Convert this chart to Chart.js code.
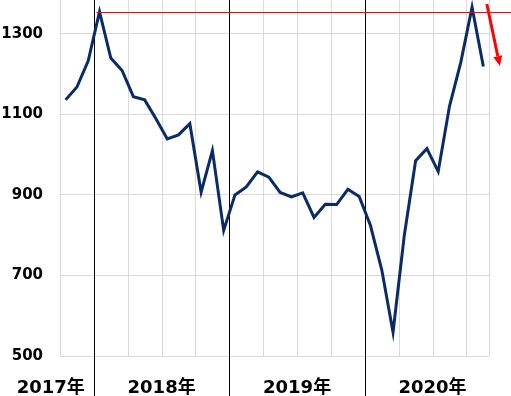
<!DOCTYPE html>
<html>
<head>
<meta charset="utf-8">
<script src="https://cdn.jsdelivr.net/npm/chart.js@4"></script>
<style>
  html, body { margin: 0; padding: 0; background: #fff; }
  #wrap { width: 511px; height: 396px; position: relative; }
</style>
</head>
<body>
<div id="wrap"><canvas id="chart"></canvas></div>
<script>
const months = [
  '2017-10', '2017-11', '2017-12',
  '2018-01', '2018-02', '2018-03', '2018-04', '2018-05', '2018-06',
  '2018-07', '2018-08', '2018-09', '2018-10', '2018-11', '2018-12',
  '2019-01', '2019-02', '2019-03', '2019-04', '2019-05', '2019-06',
  '2019-07', '2019-08', '2019-09', '2019-10', '2019-11', '2019-12',
  '2020-01', '2020-02', '2020-03', '2020-04', '2020-05', '2020-06',
  '2020-07', '2020-08', '2020-09', '2020-10', '2020-11',
];
const values = [
  1136, 1168, 1233,
  1355, 1240, 1209, 1144, 1136, 1089, 1039, 1049, 1077, 907, 1010, 812,
  900, 920, 957, 944, 906, 895, 905, 844, 877, 876, 914, 896,
  824, 714, 559, 800, 985, 1015, 958, 1120, 1229, 1366, 1219,
];
const yTicks = [500, 700, 900, 1100, 1300];
const yearLabels = ['2017年', '2018年', '2019年', '2020年'];
const yearStarts = [0, 3, 15, 27]; // index in months where each year begins
const peakIndex = 3; // red reference line is drawn at this month's level
const arrowFrom = 1374;
const arrowTo = 1220;

const FONT = '"DejaVu Sans", "Noto Sans CJK JP", sans-serif';

function boundary(xs, i) {
  const half = (xs.getPixelForValue(1) - xs.getPixelForValue(0)) / 2;
  return xs.getPixelForValue(i) - half;
}

const decorPlugin = {
  id: 'decor',
  beforeDatasetsDraw(chart) {
    const { ctx, chartArea, scales } = chart;
    const xs = scales.x;
    ctx.save();
    ctx.lineWidth = 1;
    for (let i = 0; i <= months.length; i += 1) {
      const isYear = i > 0 && yearStarts.includes(i);
      if (!isYear && i % 3 !== 0 && i !== months.length) continue;
      const x = Math.round(boundary(xs, i)) + 0.5;
      ctx.beginPath();
      if (isYear) {
        ctx.strokeStyle = '#000';
        ctx.moveTo(x, 0);
        ctx.lineTo(x, chart.height);
      } else {
        ctx.strokeStyle = '#d9d9d9';
        ctx.moveTo(x, chartArea.top);
        ctx.lineTo(x, chartArea.bottom);
      }
      ctx.stroke();
    }
    ctx.restore();
  },
  afterDraw(chart) {
    const { ctx, scales } = chart;
    const xs = scales.x;
    const ys = scales.y;
    const slot = xs.getPixelForValue(1) - xs.getPixelForValue(0);
    ctx.save();

    // year labels
    ctx.font = 'bold 18px ' + FONT;
    ctx.fillStyle = '#000';
    ctx.textBaseline = 'alphabetic';
    yearLabels.forEach((label, k) => {
      if (k === 0) {
        ctx.textAlign = 'right';
        ctx.fillText(label, boundary(xs, yearStarts[1]) - 9, 393);
      } else {
        ctx.textAlign = 'center';
        ctx.fillText(label, boundary(xs, yearStarts[k]) + slot * 6, 393);
      }
    });

    // red reference line at the earlier peak
    const yPeak = Math.round(ys.getPixelForValue(values[peakIndex])) + 0.5;
    ctx.strokeStyle = 'rgb(255, 0, 0)';
    ctx.lineWidth = 1.2;
    ctx.beginPath();
    ctx.moveTo(xs.getPixelForValue(peakIndex) - 3, yPeak);
    ctx.lineTo(chart.width, yPeak);
    ctx.stroke();

    // red arrow
    const last = months.length - 1;
    const x0 = xs.getPixelForValue(last) + 3.5;
    const x1 = xs.getPixelForValue(last) + 16.5;
    const y0 = ys.getPixelForValue(arrowFrom);
    const y1 = ys.getPixelForValue(arrowTo);
    const ang = Math.atan2(y1 - y0, x1 - x0);
    const headLen = 10;
    const headHalf = 4.5;
    const bx = x1 - headLen * Math.cos(ang);
    const by = y1 - headLen * Math.sin(ang);
    ctx.lineWidth = 3;
    ctx.beginPath();
    ctx.moveTo(x0, y0);
    ctx.lineTo(bx, by);
    ctx.stroke();
    ctx.fillStyle = '#ff0000';
    ctx.beginPath();
    ctx.moveTo(x1, y1);
    ctx.lineTo(bx + headHalf * Math.sin(ang), by - headHalf * Math.cos(ang));
    ctx.lineTo(bx - headHalf * Math.sin(ang), by + headHalf * Math.cos(ang));
    ctx.closePath();
    ctx.fill();

    ctx.restore();
  },
};

new Chart(document.getElementById('chart'), {
  type: 'line',
  data: {
    labels: months,
    datasets: [
      {
        data: values,
        borderColor: '#0b2b66',
        borderWidth: 3,
        pointRadius: 0,
        tension: 0,
        fill: false,
      },
    ],
  },
  options: {
    responsive: true,
    maintainAspectRatio: false,
    animation: false,
    layout: { padding: { left: 0, right: 22, top: 0, bottom: 0 } },
    plugins: { legend: { display: false }, tooltip: { enabled: false } },
    scales: {
      x: {
        type: 'category',
        offset: true,
        grid: { display: false },
        border: { display: false },
        ticks: { display: false },
        afterFit: (scale) => { scale.height = 40; },
      },
      y: {
        min: 500,
        max: 1384,
        afterBuildTicks: (scale) => { scale.ticks = yTicks.map((v) => ({ value: v })); },
        grid: { color: '#d9d9d9', drawTicks: false },
        border: { display: false },
        ticks: {
          color: '#000',
          padding: 17,
          font: { family: FONT, size: 15, weight: 'bold' },
          callback: (v) => String(v),
        },
        afterFit: (scale) => {
          scale.width = 60;
          scale.paddingTop = 0;
          scale.paddingBottom = 0;
        },
      },
    },
  },
  plugins: [decorPlugin],
});
</script>
</body>
</html>
